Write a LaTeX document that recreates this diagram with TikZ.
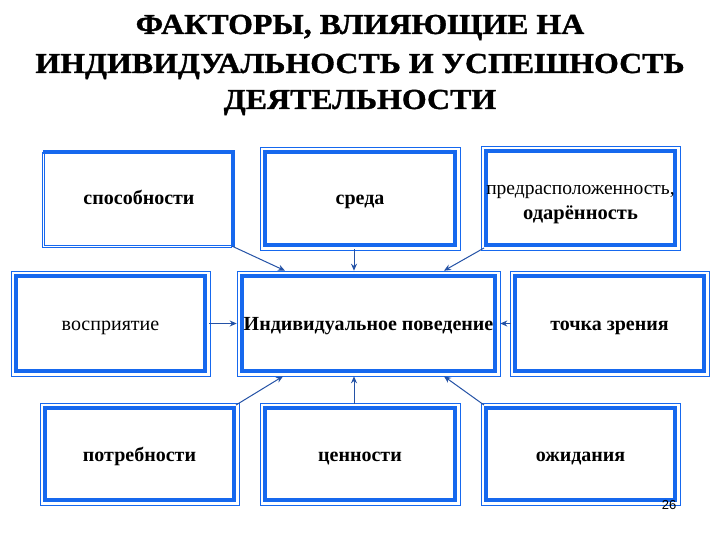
\documentclass[tikz,border=0pt]{standalone}
\usepackage{fontspec}
\setmainfont{Liberation Serif}
\setsansfont{Liberation Sans}
\newfontfamily\titlefam{Liberation Serif}[FakeStretch=1.1,BoldFeatures={FakeBold=1.2}]
\usetikzlibrary{arrows.meta}
\definecolor{bxblue}{HTML}{1668EE}
\definecolor{lnblue}{HTML}{2452A6}
\tikzset{
  bx/.style={draw=bxblue, line width=4pt, inner sep=0pt},
  thinframe/.style={draw=bxblue, line width=0.8pt},
  conn/.style={draw=lnblue, line width=1pt, -{Stealth[length=7pt,width=6pt]}},
  titlefont/.style={font=\titlefam\bfseries\fontsize{29}{34}\selectfont},
  bfont/.style={font=\bfseries\fontsize{20}{22}\selectfont},
  rfont/.style={font=\fontsize{20}{22}\selectfont},
}
\newcommand{\zt}[2][7pt]{\makebox[0pt]{\raisebox{-#1}[0pt][0pt]{#2}}}
\begin{document}
\begin{tikzpicture}[x=1pt,y=-1pt]
\useasboundingbox[fill=white] (0,0) rectangle (720,540);
% title
\node[titlefont, anchor=base] (t1) at (360,34) {ФАКТОРЫ, ВЛИЯЮЩИЕ НА};
\node[titlefont, anchor=base] (t2) at (360,73) {ИНДИВИДУАЛЬНОСТЬ И УСПЕШНОСТЬ};
\node[titlefont, anchor=base] (t3) at (360,109) {ДЕЯТЕЛЬНОСТИ};
% row 1
\node[inner sep=0pt, minimum width=188pt, minimum height=93pt, bfont] (b1) at (139,198.5) {\zt[6.5pt]{способности}};
\draw[bxblue, line width=4pt] ([xshift=-2pt]b1.north west) -- (b1.north east) -- ([yshift=-2pt]b1.south east);
\draw[thinframe] ([xshift=-2.6pt]b1.north west) -- ([xshift=-2.6pt,yshift=-2.6pt]b1.south west) -- ([xshift=-1pt,yshift=-2.6pt]b1.south east);
\draw[thinframe] ([xshift=-0.3pt]b1.north west) -- ([xshift=-0.3pt,yshift=-0.3pt]b1.south west) -- ([xshift=-1pt,yshift=-0.3pt]b1.south east);
\node[bx, minimum width=190pt, minimum height=93pt, bfont] (b2) at (360,198.5) {\zt[6.5pt]{среда}};
\node[bx, minimum width=189pt, minimum height=94pt] (b3) at (580.5,198) {\zt[-3pt]{\fontsize{19.5}{22}\selectfont предрасположенность,}\zt[22pt]{\bfseries\fontsize{20.5}{22}\selectfont одарённость}};
% row 2
\node[bx, minimum width=189pt, minimum height=95pt, rfont] (b4) at (110.5,323.5) {\zt{восприятие}};
\node[bx, minimum width=253pt, minimum height=95pt, bfont] (b5) at (368.5,323.5) {\zt{Индивидуальное поведение}};
\node[bx, minimum width=189pt, minimum height=95pt, bfont] (b6) at (609.5,323.5) {\zt{точка зрения}};
% row 3
\node[bx, minimum width=189pt, minimum height=92pt, bfont] (b7) at (139.5,454) {\zt[7.5pt]{потребности}};
\node[bx, minimum width=190pt, minimum height=92pt, bfont] (b8) at (360,454) {\zt[7.5pt]{ценности}};
\node[bx, minimum width=189pt, minimum height=92pt, bfont] (b9) at (580.5,454) {\zt[7.5pt]{ожидания}};
% thin outer frames
\foreach \b in {b2,b3,b4,b5,b6,b7,b8,b9}{
  \draw[thinframe] ([shift={(-2.9pt,2.9pt)}]\b.north west) rectangle ([shift={(2.9pt,-2.9pt)}]\b.south east);
}
% connectors
\draw[conn] ([shift={(-1pt,-1pt)}]b1.south east) -- ([xshift=45pt,yshift=3.3pt]b5.north west);
\draw[conn] ([xshift=-6pt,yshift=-2pt]b2.south) -- ([xshift=-14.5pt,yshift=3.3pt]b5.north);
\draw[conn] ([yshift=-1pt]b3.south west) -- ([xshift=-53pt,yshift=3.3pt]b5.north east);
\draw[conn] ([xshift=2pt]b4.east) -- ([xshift=-3.3pt]b5.west);
\draw[conn] ([xshift=-2pt]b6.west) -- ([xshift=3.3pt]b5.east);
\draw[conn] ([yshift=1pt]b7.north east) -- ([xshift=43pt,yshift=-3.3pt]b5.south west);
\draw[conn] ([xshift=-6pt,yshift=2pt]b8.north) -- ([xshift=-14.5pt,yshift=-3.3pt]b5.south);
\draw[conn] ([yshift=1pt]b9.north west) -- ([xshift=-53pt,yshift=-3.3pt]b5.south east);
% page number
\node[font=\sffamily\fontsize{13}{15}\selectfont, inner sep=0pt] (pg) at (669,505) {26};
\end{tikzpicture}
\end{document}
